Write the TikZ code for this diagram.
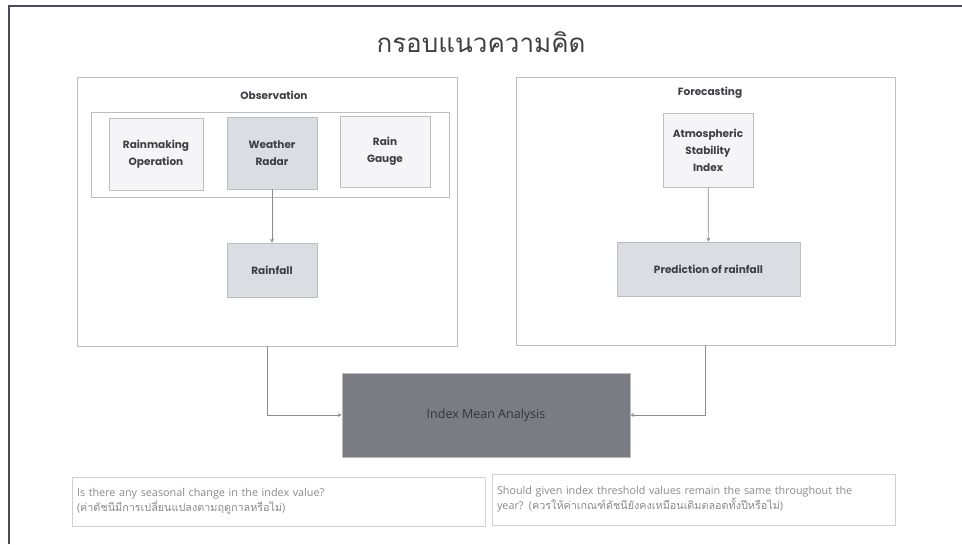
\documentclass[tikz,border=0pt]{standalone}
\usepackage{fontspec}
\setmainfont{Poppins}
\newfontfamily\thaifont[Script=Thai]{Loma}
\newfontfamily\qfont{Open Sans}
\usetikzlibrary{arrows.meta}
\definecolor{framecol}{HTML}{4A4A5E}
\definecolor{boxline}{HTML}{BDBDC2}
\definecolor{lightfill}{HTML}{F5F5F7}
\definecolor{midfill}{HTML}{DCDCE3}
\definecolor{darkfill}{HTML}{7B7B84}
\definecolor{labelcol}{HTML}{3E3E44}
\definecolor{qcol}{HTML}{8A8A8E}
\definecolor{linecol}{HTML}{8C8C90}
\tikzset{
  panel/.style={draw=boxline, line width=0.7pt, fill=white, inner sep=0pt},
  groupbox/.style={draw=boxline, line width=0.7pt, inner sep=0pt},
  lightbox/.style={draw=boxline, line width=0.7pt, fill=lightfill, align=center, inner sep=2pt, font=\bfseries\fontsize{10.5}{17}\selectfont, text=labelcol},
  midbox/.style={draw=boxline, line width=0.7pt, fill=midfill, align=center, inner sep=2pt, font=\bfseries\fontsize{10.5}{17}\selectfont, text=labelcol},
  darkbox/.style={draw=boxline, line width=0.7pt, fill=darkfill, align=center, inner sep=2pt, font=\qfont\fontsize{12.5}{14}\selectfont, text=labelcol!85!black},
  qbox/.style={draw=boxline!70, line width=0.7pt, fill=white, align=left, text width=#1, inner sep=5pt, font=\qfont\fontsize{10.8}{15}\selectfont, text=qcol},
  paneltitle/.style={font=\bfseries\fontsize{10.5}{12}\selectfont, text=labelcol},
  arr/.style={draw=linecol, line width=0.7pt, -{Stealth[length=4pt,width=4pt]}}
}
\begin{document}
\begin{tikzpicture}[x=1pt,y=-1pt]
\useasboundingbox (0,0) rectangle (962,544);
\fill[white] (0,0) rectangle (962,544);
\draw[framecol, line width=1.6pt] (9,544) -- (9,6) -- (962,6);

\node[font=\thaifont\fontsize{26}{30}\selectfont, text=black!75] (title) at (481,42) {กรอบแนวความคิด};

% panels
\node[panel, minimum width=380, minimum height=269] (obs) at (267,211.5) {};
\node[paneltitle] (obst) at (274,95) {Observation};
\node[groupbox, minimum width=358, minimum height=85] (grp) at (270,154.5) {};
\node[lightbox, minimum width=94, minimum height=72] (rain) at (156,154) {Rainmaking\\Operation};
\node[midbox, minimum width=90, minimum height=72] (radar) at (272,153) {Weather\\Radar};
\node[lightbox, minimum width=90, minimum height=71] (gauge) at (385,151.5) {Rain\\Gauge};
\node[midbox, minimum width=90, minimum height=54] (rainfall) at (272,270) {Rainfall};

\node[panel, minimum width=379, minimum height=268] (fore) at (705.5,211) {};
\node[paneltitle] (foret) at (710,93) {Forecasting};
\node[lightbox, minimum width=90, minimum height=74] (atmos) at (708,150) {Atmospheric\\Stability\\Index};
\node[midbox, minimum width=183, minimum height=54] (pred) at (708.5,269) {Prediction of rainfall};

\node[darkbox, minimum width=288, minimum height=84] (ima) at (486,415) {Index Mean Analysis};

\draw[arr] (radar) -- (rainfall);
\draw[arr] (atmos) -- (pred);
\draw[arr] (obs.south) |- (ima.west);
\draw[arr] (fore.south) |- (ima.east);

\node[qbox=403pt, minimum height=49] (q1) at (278.5,501.5) {Is there any seasonal change in the index value?\\({\thaifont ค่าดัชนีมีการเปลี่ยนแปลงตามฤดูกาลหรือไม่})};
\node[qbox=393pt, minimum height=51] (q2) at (693.5,499.5) {Should given index threshold values remain the same throughout the\\year? ({\thaifont ควรให้ค่าเกณฑ์ดัชนียังคงเหมือนเดิมตลอดทั้งปีหรือไม่})};
\end{tikzpicture}
\end{document}
